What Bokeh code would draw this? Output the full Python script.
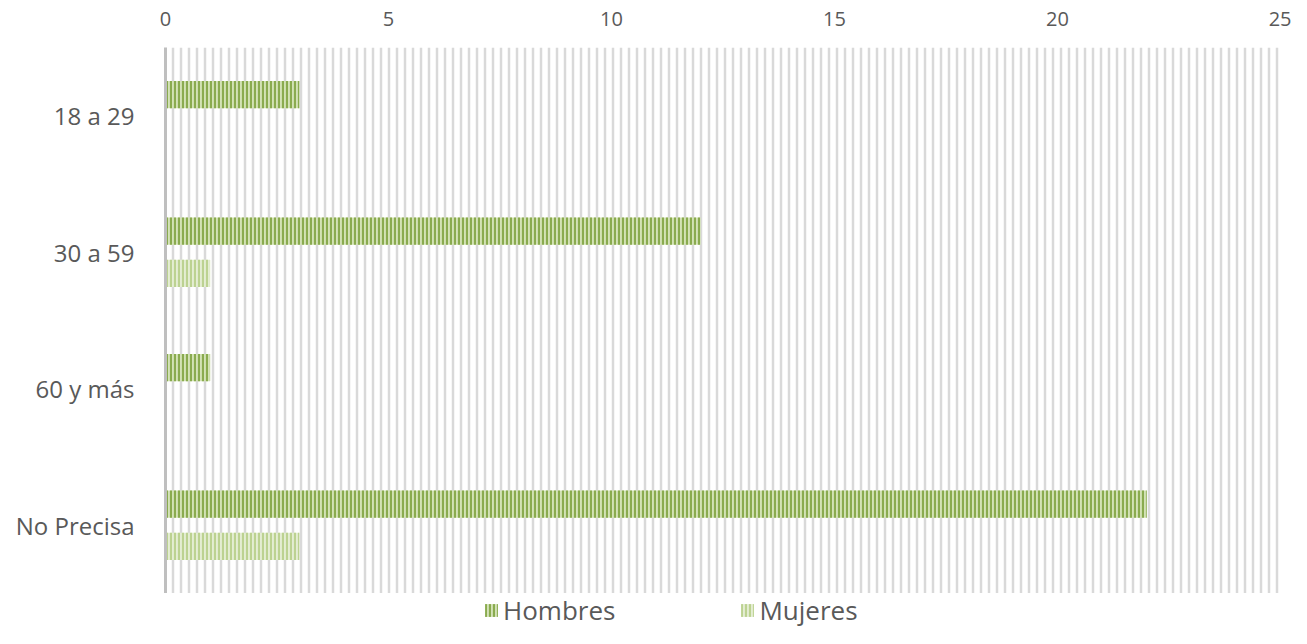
from bokeh.plotting import figure
from bokeh.models import ColumnDataSource, FactorRange, Range1d, FixedTicker, BoxAnnotation, Legend, LegendItem
from bokeh.transform import dodge
from bokeh.layouts import column
from bokeh.embed import file_html
from bokeh.resources import INLINE

categories = ["18 a 29", "30 a 59", "60 y más", "No Precisa"]
hombres = [3, 12, 1, 22]
mujeres = [0, 1, 0, 3]
x_ticks = [0, 5, 10, 15, 20, 25]
series_names = ["Hombres", "Mujeres"]

FONT = "Open Sans"
TXT = "#595959"
H_FILL, H_HATCH = "#d3e2b6", "#8aab4f"
M_FILL, M_HATCH = "#e4edd3", "#bcd291"

src = ColumnDataSource(dict(cat=categories, hombres=hombres, mujeres=mujeres))

p = figure(width=1291, height=593, output_backend="svg", toolbar_location=None,
           y_range=FactorRange(factors=list(reversed(categories))),
           x_range=Range1d(0, 25), x_axis_location="above",
           min_border_left=165, min_border_top=47, min_border_bottom=0, min_border_right=11)
p.outline_line_color = None
p.xgrid.visible = False
p.ygrid.visible = False

bg = BoxAnnotation(fill_alpha=0, line_alpha=0, hatch_pattern="|", hatch_color="#d9d9d9",
                   hatch_scale=8, hatch_weight=2.5, level="underlay")
p.add_layout(bg)

r1 = p.hbar(y=dodge("cat", 0.155, range=p.y_range), left=0, right="hombres", height=0.2,
            source=src, fill_color=H_FILL, line_color=None,
            hatch_pattern="|", hatch_color=H_HATCH, hatch_scale=4, hatch_weight=2.2)
r2 = p.hbar(y=dodge("cat", -0.155, range=p.y_range), left=0, right="mujeres", height=0.2,
            source=src, fill_color=M_FILL, line_color=None,
            hatch_pattern="|", hatch_color=M_HATCH, hatch_scale=4, hatch_weight=2.2)

xa = p.xaxis[0]
xa.ticker = FixedTicker(ticks=x_ticks)
xa.axis_line_color = None
xa.major_tick_line_color = None
xa.major_tick_out = 0
xa.major_tick_in = 0
xa.minor_tick_line_color = None
xa.major_label_text_font = FONT
xa.major_label_text_font_size = "20px"
xa.major_label_text_color = TXT
xa.major_label_standoff = 22

ya = p.yaxis[0]
ya.axis_line_color = "#bfbfbf"
ya.axis_line_width = 3
ya.major_tick_line_color = None
ya.major_tick_out = 0
ya.major_tick_in = 0
ya.minor_tick_line_color = None
ya.major_label_text_font = FONT
ya.major_label_text_font_size = "24px"
ya.major_label_text_color = TXT
ya.major_label_standoff = 31

# legend strip below the chart (zero-size proxy marks only carry the legend styles)
pl = figure(width=1291, height=35, output_backend="svg", toolbar_location=None,
            x_axis_location=None, y_axis_location=None,
            x_range=Range1d(0, 1), y_range=Range1d(0, 1),
            min_border_left=0, min_border_right=0, min_border_top=0, min_border_bottom=0)
pl.outline_line_color = None
pl.grid.visible = False
proxy = ColumnDataSource(dict(x=[0], y=[0]))
lr1 = pl.rect(x="x", y="y", width=0, height=0, source=proxy, fill_color=H_FILL, line_color=None,
              hatch_pattern="|", hatch_color=H_HATCH, hatch_scale=4, hatch_weight=2.2)
lr2 = pl.rect(x="x", y="y", width=0, height=0, source=proxy, fill_color=M_FILL, line_color=None,
              hatch_pattern="|", hatch_color=M_HATCH, hatch_scale=4, hatch_weight=2.2)

legend = Legend(items=[LegendItem(label=series_names[0], renderers=[lr1]),
                       LegendItem(label=series_names[1], renderers=[lr2])],
                orientation="horizontal", location=(318, 0),
                label_text_font=FONT, label_text_font_size="26px", label_text_color=TXT,
                glyph_width=16, glyph_height=16, label_standoff=4, spacing=124,
                border_line_color=None, background_fill_alpha=0, margin=0, padding=0)
pl.add_layout(legend)

layout = column(p, pl, spacing=0)
open("out.html", "w").write(file_html(layout, INLINE))
